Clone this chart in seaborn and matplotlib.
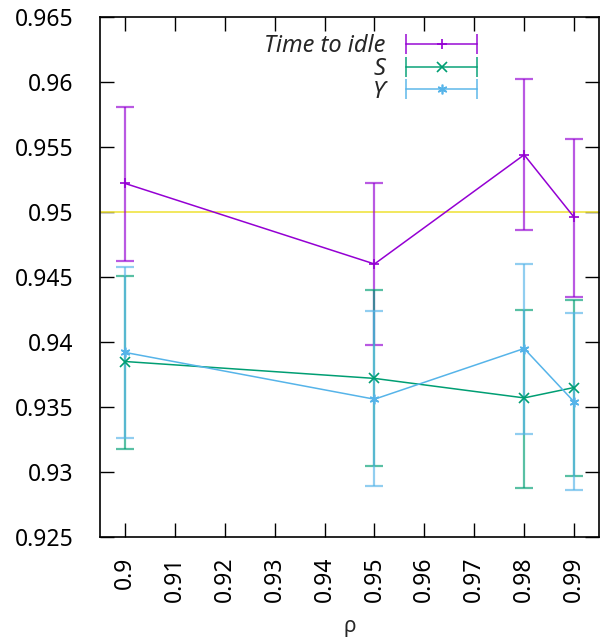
import matplotlib
matplotlib.use("Agg")
import matplotlib.pyplot as plt
import seaborn as sns
import pandas as pd
import numpy as np
from matplotlib.lines import Line2D
from matplotlib.legend_handler import HandlerLine2D, HandlerTuple

rho = [0.90, 0.95, 0.98, 0.99]

idle_mean = [0.9522, 0.9460, 0.9544, 0.9496]
idle_lo = [0.9462, 0.9398, 0.9486, 0.9435]
idle_hi = [0.9581, 0.9522, 0.9602, 0.9556]

s_mean = [0.9385, 0.9372, 0.9357, 0.9365]
s_lo = [0.9318, 0.9305, 0.9288, 0.9297]
s_hi = [0.9451, 0.9440, 0.9425, 0.9432]

u_mean = [0.9392, 0.9356, 0.9395, 0.9354]
u_lo = [0.9326, 0.9289, 0.9329, 0.9286]
u_hi = [0.9458, 0.9424, 0.9460, 0.9422]

labels = ["Time to idle", "S", "ϒ"]
ref_level = 0.95
xticks = [0.90, 0.91, 0.92, 0.93, 0.94, 0.95, 0.96, 0.97, 0.98, 0.99]
yticks = [0.925, 0.93, 0.935, 0.94, 0.945, 0.95, 0.955, 0.96, 0.965]

sns.set_style("ticks")
plt.rcParams["font.family"] = ["Noto Sans", "DejaVu Sans"]

colors = ["#9400D3", "#009E73", "#56B4E9"]
markers = ["+", "x", (6, 2, 0)]

df = pd.concat([
    pd.DataFrame({"rho": rho, "value": m, "lo": lo, "hi": hi, "series": lab})
    for m, lo, hi, lab in [(idle_mean, idle_lo, idle_hi, labels[0]),
                           (s_mean, s_lo, s_hi, labels[1]),
                           (u_mean, u_lo, u_hi, labels[2])]
])

fig = plt.figure(figsize=(6, 6.4), dpi=100)
ax = fig.add_axes([100/600, 1-537/640, 499/600, 520/640])

ax.axhline(ref_level, color="#F0E442", lw=1.2, zorder=1)

handles = []
for lab, c, mk in zip(labels, colors, markers):
    d = df[df["series"] == lab]
    ax.errorbar(d["rho"], d["value"],
                yerr=[d["value"] - d["lo"], d["hi"] - d["value"]],
                fmt="none", ecolor=c, alpha=0.65, elinewidth=1.6,
                capsize=6.5, capthick=1.6, zorder=2)
    sns.lineplot(data=d, x="rho", y="value", ax=ax, color=c, marker=mk,
                 markersize=7, markeredgewidth=1.2, markeredgecolor=c,
                 lw=1.1, legend=False, zorder=3, estimator=None)
    caps = Line2D([0], [0], color=c, marker="|", markersize=14,
                  markeredgewidth=1.4, lw=1.4, alpha=0.75)
    cen = Line2D([0], [0], color=c, marker=mk, markersize=7,
                 markeredgewidth=1.2, lw=0)
    handles.append((caps, cen))

hm = {}
for h in handles:
    hm[h[0]] = HandlerLine2D(numpoints=2)
    hm[h[1]] = HandlerLine2D(numpoints=1)
hm[tuple] = HandlerTuple(ndivide=1)
leg = ax.legend(handles, labels, handler_map=hm, loc="upper right",
                bbox_to_anchor=(0.794, 0.99), frameon=False,
                markerfirst=False, handlelength=3.6, handletextpad=0.6,
                labelspacing=-0.05, borderpad=0, fontsize=17)
for t in leg.get_texts():
    t.set_fontstyle("italic")

ax.set_xlim(0.895, 0.995)
ax.set_ylim(0.925, 0.965)
ax.set_xticks(xticks)
ax.set_xticklabels([f"{v:g}" for v in xticks], rotation=90)
ax.set_yticks(yticks)
ax.set_yticklabels([f"{v:g}" for v in yticks])
ax.tick_params(direction="in", length=10, width=1, top=True, right=True,
               labelsize=16.5, colors="black")
ax.tick_params(axis="x", pad=14)
ax.tick_params(axis="y", pad=19)
for sp in ax.spines.values():
    sp.set_visible(True)
    sp.set_color("black")
    sp.set_linewidth(1.2)
ax.set_xlabel("ρ", fontsize=15, labelpad=10)
ax.set_ylabel("")

fig.savefig("out.png", dpi=100)
